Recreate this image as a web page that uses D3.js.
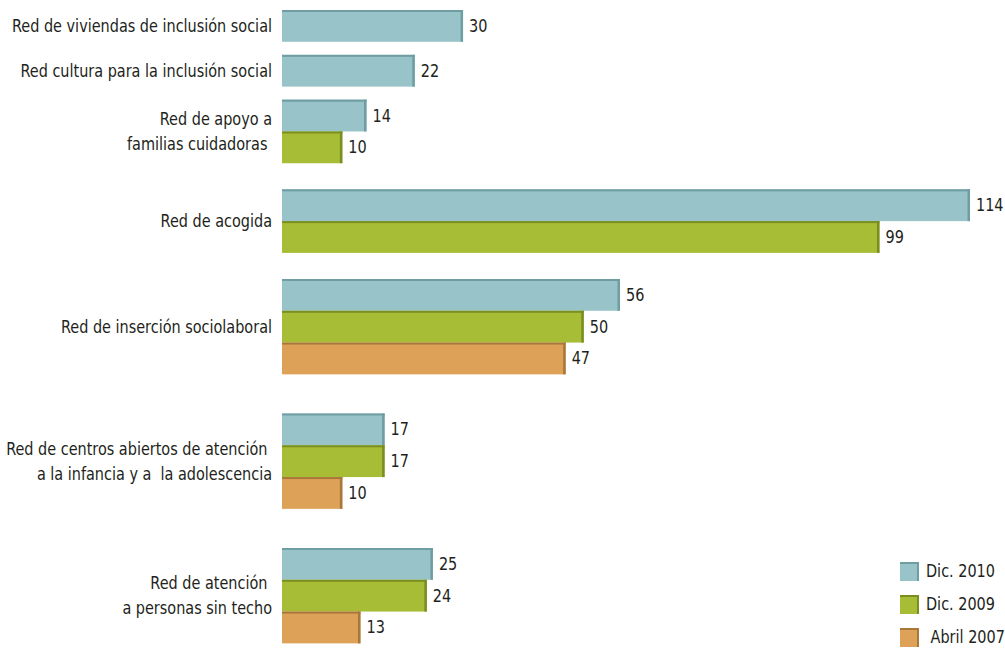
<!DOCTYPE html>
<html>
<head>
<meta charset="utf-8">
<script src="https://cdn.jsdelivr.net/npm/d3@7"></script>
<style>
  body { margin: 0; background: #fff; }
  svg text { font-family: "DejaVu Sans Condensed", "DejaVu Sans", sans-serif; font-stretch: condensed; fill: #231f20; white-space: pre; }
</style>
</head>
<body>
<svg id="chart" width="1005" height="648"></svg>
<script>
const categories = [
  ["Red de viviendas de inclusión social"],
  ["Red cultura para la inclusión social"],
  ["Red de apoyo a", "familias cuidadoras "],
  ["Red de acogida"],
  ["Red de inserción sociolaboral"],
  ["Red de centros abiertos de atención ", "a la infancia y a  la adolescencia"],
  ["Red de atención ", "a personas sin techo"]
];
const seriesNames = ["Dic. 2010", "Dic. 2009", " Abril 2007"];
const dic2010 = [30, 22, 14, 114, 56, 17, 25];
const dic2009 = [null, null, 10, 99, 50, 17, 24];
const abril2007 = [null, null, null, null, 47, 10, 13];
const seriesValues = [dic2010, dic2009, abril2007];
const fills = ["#98c4c9", "#a7bd35", "#dda257"];
const edges = ["#6e9da2", "#7a8e22", "#a8783a"];

const svg = d3.select("#chart");
const fontSize = 18;

// horizontal condensing factor, calibrated on the widest label (≈260px in the reference)
const probe = svg.append("text").attr("font-size", fontSize).text(categories[0][0]);
const K = 260 / probe.node().getComputedTextLength();
probe.remove();
function condense(node) {
  const w = node.getComputedTextLength();
  if (w > 0) {
    d3.select(node).attr("textLength", w * K).attr("lengthAdjust", "spacingAndGlyphs");
  }
}

const x = d3.scaleLinear().domain([0, 114]).range([282, 970]);

// slot layout: each category occupies as many slots as it has bars
const counts = categories.map((c, i) => seriesValues.filter(s => s[i] != null).length);
const starts = [];
let acc = 0;
counts.forEach(n => { starts.push(acc); acc += n; });
const y = d3.scaleLinear().domain([0, 12]).range([10, 548]);
const barH = y(0.709) - y(0);

const bars = [];
categories.forEach((c, i) => {
  let j = 0;
  seriesValues.forEach((s, k) => {
    if (s[i] != null) {
      bars.push({ cat: i, series: k, value: s[i], top: y(starts[i]) + j * barH });
      j++;
    }
  });
});

const g = svg.append("g");
const bg = g.selectAll("g.bar").data(bars).enter().append("g").attr("class", "bar");
bg.append("rect")
  .attr("x", x(0)).attr("y", d => d.top)
  .attr("width", d => x(d.value) - x(0)).attr("height", barH)
  .attr("fill", d => fills[d.series]);
// bevel: darker top and right edges
bg.append("rect")
  .attr("x", x(0)).attr("y", d => d.top)
  .attr("width", d => x(d.value) - x(0)).attr("height", 2)
  .attr("fill", d => edges[d.series]);
bg.append("rect")
  .attr("x", d => x(d.value) - 2.5).attr("y", d => d.top)
  .attr("width", 2.5).attr("height", barH)
  .attr("fill", d => edges[d.series]);
bg.append("text")
  .attr("x", d => x(d.value) + 6)
  .attr("y", d => d.top + barH / 2 + 1)
  .attr("dominant-baseline", "middle")
  .attr("font-size", fontSize)
  .text(d => d.value)
  .each(function() { condense(this); });

// category labels
const lineH = 25;
categories.forEach((lines, i) => {
  const cy = y(starts[i]) + counts[i] * barH / 2;
  const t = svg.append("text")
    .attr("text-anchor", "end")
    .attr("font-size", fontSize);
  lines.forEach((ln, li) => {
    const ts = t.append("tspan")
      .attr("x", 272)
      .attr("y", cy + (li - (lines.length - 1) / 2) * lineH + 1)
      .attr("dominant-baseline", "middle")
      .text(ln);
    condense(ts.node());
  });
});

// legend
const legY = d3.scaleLinear().domain([0, 2]).range([562, 628]);
const leg = svg.selectAll("g.leg").data(seriesNames).enter().append("g").attr("class", "leg");
leg.append("rect").attr("x", 900).attr("y", (d, i) => legY(i)).attr("width", 19).attr("height", 19)
  .attr("fill", (d, i) => fills[i]);
leg.append("rect").attr("x", 900).attr("y", (d, i) => legY(i)).attr("width", 19).attr("height", 2)
  .attr("fill", (d, i) => edges[i]);
leg.append("rect").attr("x", 917).attr("y", (d, i) => legY(i)).attr("width", 2).attr("height", 19)
  .attr("fill", (d, i) => edges[i]);
leg.append("text").attr("x", 926).attr("y", (d, i) => legY(i) + 10)
  .attr("dominant-baseline", "middle").attr("font-size", fontSize)
  .text(d => d)
  .each(function() { condense(this); });
</script>
</body>
</html>
